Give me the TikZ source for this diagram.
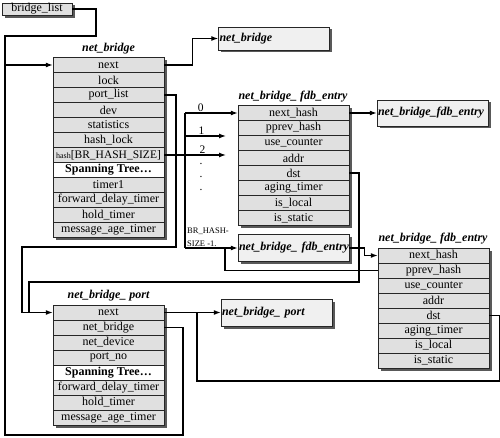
\documentclass[tikz,border=0pt]{standalone}
\usepackage{fontspec}
\setmainfont{Liberation Serif}
\usetikzlibrary{arrows.meta,shadows}

\definecolor{rowgray}{gray}{0.88}
\definecolor{boxgray}{gray}{0.94}
\definecolor{shadegray}{gray}{0.35}

\tikzset{
  shadowed/.style={drop shadow={shadow xshift=2.5pt, shadow yshift=-2.5pt, fill=shadegray, opacity=1}},
  field/.style={draw=black!85, fill=rowgray, shadowed, minimum width=111pt, minimum height=15pt,
    inner sep=0pt, font=\fontsize{12}{12}\selectfont},
  spanfield/.style={field, fill=white, font=\fontsize{12}{12}\selectfont\bfseries},
  smallbox/.style={draw=black!85, fill=boxgray, shadowed, minimum width=111pt, text width=109pt,
    inner xsep=1pt, align=left, font=\fontsize{12}{12}\selectfont\bfseries\itshape},
  title/.style={font=\fontsize{12}{12}\selectfont\bfseries\itshape},
  link/.style={line width=1.3pt},
  ptr/.style={line width=1.3pt, -{Latex[length=7pt,width=5pt]}},
  idx/.style={font=\fontsize{11.5}{12}\selectfont, inner sep=1pt},
}

\begin{document}
\begin{tikzpicture}[x=1pt,y=-1pt]
  \useasboundingbox (0,0) rectangle (500,438);

  % list head
  \node[field, minimum width=70pt, minimum height=12.5pt] (bl) at (37,9) {bridge\_list};

  % net_bridge
  \node[title] (t-nb) at (108.5,49) {net\_bridge};
  \foreach \f/\s [count=\i] in {next/field, lock/field, port\_list/field, dev/field,
      statistics/field, hash\_lock/field,
      {{\fontsize{8}{8}\selectfont hash}{\fontsize{11.5}{12}\selectfont[BR\_HASH\_SIZE]}}/field,
      {Spanning Tree\ldots}/spanfield, timer1/field, forward\_delay\_timer/field,
      hold\_timer/field, message\_age\_timer/field}
    \node[\s] (nb-\i) at (108.5,{50+15*\i}) {\f};

  % net_bridge_fdb_entry (hash chain head)
  \node[title] (t-fdb) at (293,97) {net\_bridge\_ fdb\_entry};
  \foreach \f [count=\i] in {next\_hash, pprev\_hash, use\_counter, addr, dst,
      aging\_timer, is\_local, is\_static}
    \node[field] (fdb-\i) at (293.5,{98+15*\i}) {\f};

  % second net_bridge_fdb_entry
  \node[title] (t-fdb2) at (433,239) {net\_bridge\_ fdb\_entry};
  \foreach \f [count=\i] in {next\_hash, pprev\_hash, use\_counter, addr, dst,
      aging\_timer, is\_local, is\_static}
    \node[field] (fdb2-\i) at (433.5,{240.5+15*\i}) {\f};

  % net_bridge_port
  \node[title] (t-pt) at (108.5,296) {net\_bridge\_ port};
  \foreach \f/\s [count=\i] in {next/field, net\_bridge/field, net\_device/field,
      port\_no/field, {Spanning Tree\ldots}/spanfield, forward\_delay\_timer/field,
      hold\_timer/field, message\_age\_timer/field}
    \node[\s] (pt-\i) at (108.5,{297.5+15*\i}) {\f};

  % short boxes
  \node[smallbox, minimum height=23pt] (nbx) at (274,38.5) {\raisebox{3pt}{net\_bridge}};
  \node[smallbox, minimum height=26pt] (fdbx) at (432.5,113) {\raisebox{3pt}{net\_bridge\_fdb\_entry}};
  \node[smallbox, minimum height=27pt] (hashx) at (293.5,248) {\raisebox{3pt}{net\_bridge\_ fdb\_entry}};
  \node[smallbox, minimum height=27pt] (portx) at (276.5,312.5) {\raisebox{3pt}{net\_bridge\_ port}};

  % hash table slots
  \coordinate (h0) at (185,113);
  \coordinate (h1) at (185,136);
  \coordinate (h1e) at (226,136);
  \coordinate (h2e) at (226,155);
  \coordinate (hn) at (185,248);
  \node[idx] (d1) at (201,164) {.};
  \node[idx] (d2) at (201,177) {.};
  \node[idx] (d3) at (201,190) {.};
  \node[anchor=west, align=left, inner sep=0pt, font=\fontsize{8.5}{13}\selectfont]
    (hsize) at (187,237) {BR\_HASH-\\SIZE -1.};

  % connectors
  \draw[ptr] (bl.east) -| (96,36) -| (5,65) -- (nb-1.west);
  \draw[link] (pt-2.east) -| (183,435) -| (5,65);
  \draw[ptr] (nb-1.east) -- ++(28,0) |- (nbx.west);
  \draw[ptr] (nb-3.east) -| (176,247) -| (22,312.5) -- (pt-1.west);
  \draw[ptr] (nb-7.east) -- node[idx, above, pos=0.62] {2} (h2e);
  \draw[link] (h0) -- (hn);
  \draw[ptr] (h0) -- node[idx, above, pos=0.3] {0} (fdb-1.west);
  \draw[ptr] (h1) -- node[idx, above, pos=0.4] {1} (h1e);
  \draw[ptr] (hn) -- (hashx.west);
  \draw[ptr] (fdb-1.east) -- (fdbx.west);
  \draw[link] (fdb-5.east) -| (359,282) -| (29,312.5);
  \draw[ptr] (hashx.east) -- ++(15,0) |- (fdb2-1.west);
  \draw[link] (fdb2-2.west) -| (225,248);
  \draw[link] (fdb2-5.east) -- ++(10,0) |- (197,381) -- (197,312.5);
  \draw[ptr] (pt-1.east) -- (portx.west);
\end{tikzpicture}
\end{document}
